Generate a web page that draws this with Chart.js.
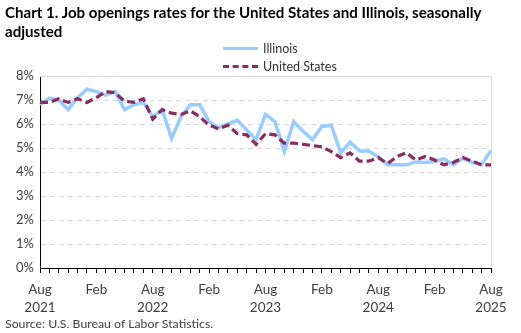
<!DOCTYPE html>
<html><head><meta charset="utf-8">
<script src="https://cdn.jsdelivr.net/npm/chart.js@4"></script>
<style>
html,body{margin:0;padding:0;background:#fff;}
#wrap{position:relative;width:521px;height:333px;overflow:hidden;font-family:Lato,"Open Sans",sans-serif;}
#title{position:absolute;left:5px;top:3px;font-weight:bold;font-size:15.1px;line-height:19px;color:#000;width:516px;}
#legend{position:absolute;left:223px;top:39px;font-size:12.5px;color:#333;}
.li{display:flex;align-items:center;height:18px;}
.sw{width:35px;height:0;margin-right:5px;}
#src{position:absolute;left:5px;top:316px;font-size:12.3px;color:#404040;}
canvas{position:absolute;left:0;top:0;}
</style></head>
<body><div id="wrap">
<canvas id="c" width="521" height="333"></canvas>
<div id="title">Chart 1. Job openings rates for the United States and Illinois, seasonally adjusted</div>
<div id="legend">
 <div class="li"><div class="sw" style="border-top:3.5px solid #99CCFF"></div><span>Illinois</span></div>
 <div class="li"><div class="sw" style="border-top:3.5px dashed #8B2C5E"></div><span>United States</span></div>
</div>
<div id="src">Source: U.S. Bureau of Labor Statistics.</div>
</div>
<script>
const months = ['Aug','Sep','Oct','Nov','Dec','Jan','Feb','Mar','Apr','May','Jun','Jul'];
const startYear = 2021;
const categories = [];
for (let i = 0; i < 49; i++) { categories.push(months[i % 12] + ' ' + (startYear + Math.floor((i + 7) / 12))); }
const illinois = [6.8,7.08,7.0,6.6,7.1,7.45,7.35,7.2,7.35,6.6,6.8,6.9,
 6.3,6.6,5.4,6.3,6.8,6.8,6.1,5.85,6.0,6.15,5.75,5.35,
 6.4,6.1,4.85,6.1,5.7,5.35,5.9,5.95,4.8,5.25,4.87,4.87,
 4.63,4.3,4.3,4.3,4.42,4.4,4.45,4.55,4.3,4.58,4.4,4.3,4.9];
const unitedStates = [6.9,6.9,7.05,6.9,7.05,6.9,7.1,7.35,7.3,6.95,6.9,7.05,
 6.2,6.6,6.45,6.4,6.55,6.3,5.95,5.8,5.95,5.6,5.55,5.15,
 5.6,5.55,5.2,5.2,5.15,5.1,5.05,4.85,4.6,4.8,4.45,4.45,
 4.6,4.35,4.65,4.8,4.5,4.65,4.5,4.3,4.4,4.6,4.45,4.3,4.3];
const yTicks = [0,1,2,3,4,5,6,7,8];

const frame = {
  id:'frame',
  afterDatasetsDraw(chart){
    const {ctx, chartArea:a} = chart;
    ctx.save();
    ctx.strokeStyle='#d9d9d9'; ctx.lineWidth=1;
    ctx.beginPath();
    ctx.moveTo(a.left, a.top+0.5); ctx.lineTo(a.right+0.5, a.top+0.5); ctx.lineTo(a.right+0.5, a.bottom);
    ctx.stroke();
    ctx.restore();
  }
};

new Chart(document.getElementById('c'), {
  type:'line',
  data:{labels:categories, datasets:[
    {label:'Illinois', data:illinois, borderColor:'#99CCFF', borderWidth:3.5, pointRadius:0, tension:0, order:2},
    {label:'United States', data:unitedStates, borderColor:'#8B2C5E', borderWidth:3.2, borderDash:[8,4], pointRadius:0, tension:0, order:1}
  ]},
  options:{
    responsive:false, animation:false, events:[],
    layout:{padding:{top:76,right:30,bottom:15,left:0}},
    plugins:{legend:{display:false}, tooltip:{enabled:false}, title:{display:false}},
    scales:{
      x:{
        offset:false,
        grid:{drawOnChartArea:false, drawTicks:true, tickLength:5, color:'#000'},
        border:{color:'#000', width:1},
        ticks:{autoSkip:false, maxRotation:0, minRotation:0, padding:8, color:'#404040',
          font:{family:'Lato', size:13.5, lineHeight:1.3}, 
          callback:function(v,i){ const l=categories[i]; const p=l.split(' ');
            if(p[0]==='Aug') return [p[0],p[1]]; if(p[0]==='Feb') return 'Feb'; return ''; }},
        afterFit(s){ s.height=50; }
      },
      y:{
        min:0,max:8,
        afterBuildTicks(s){ s.ticks = yTicks.map(v=>({value:v})); },
        grid:{color:function(c){ return c.tick && c.tick.value===8 ? 'rgba(0,0,0,0)' : '#d9d9d9'; }, drawTicks:false, lineWidth:1},
        border:{color:'#000', width:1, dash:[5,4]},
        ticks:{padding:6, color:'#404040', font:{family:'Lato', size:13}, callback:v=>v+'%'},
        afterFit(s){ s.width=40; }
      }
    }
  },
  plugins:[frame]
});
</script>
</body></html>
